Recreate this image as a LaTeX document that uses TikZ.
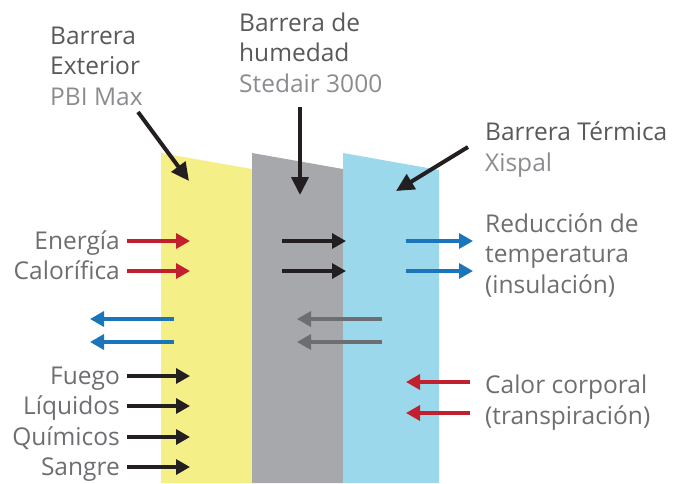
\documentclass[tikz,border=0pt]{standalone}
\usepackage{fontspec}
\setmainfont{Open Sans}
\usetikzlibrary{arrows.meta}

\definecolor{amarillo}{HTML}{F5EF88}
\definecolor{gris}{HTML}{A7A8AB}
\definecolor{celeste}{HTML}{9BD8EB}
\definecolor{rojo}{HTML}{C1202F}
\definecolor{azul}{HTML}{1B75BB}
\definecolor{negro}{HTML}{231F20}
\definecolor{grisosc}{HTML}{6D6E71}
\definecolor{textoosc}{HTML}{58595B}
\definecolor{textocla}{HTML}{8A8C8F}

\begin{document}
\begin{tikzpicture}[x=1pt,y=-1pt,
  flecha/.style={line width=3.3pt,-{Triangle[length=14pt,width=15pt]}},
  indica/.style={line width=4pt,draw=negro,-{Triangle[length=18pt,width=17pt]}},
  etiq/.style={text=grisosc,font=\fontsize{24.5}{30.5}\selectfont,inner sep=0pt},
  titulo/.style={etiq,text=textoosc,align=left,anchor=base west}]
\useasboundingbox (0,0) rectangle (676,483);

% capas
\fill[amarillo] (161,153) -- (252,169) -- (252,483) -- (161,483) -- cycle;
\fill[gris] (252,153) -- (343,169) -- (343,483) -- (252,483) -- cycle;
\fill[celeste] (343,153) -- (439,170) -- (439,483) -- (343,483) -- cycle;

% titulos (base = ultima linea)
\node[titulo] (exterior) at (50,105) {Barrera\\Exterior\\\textcolor{textocla}{PBI Max}};
\node[titulo] (humedad) at (239,92) {Barrera de\\humedad\\\textcolor{textocla}{Stedair 3000}};
\node[titulo] (termica) at (485,171) {Barrera Térmica\\\textcolor{textocla}{Xispal}};
\node[titulo,text=grisosc] (reduccion) at (485,293) {Reducción de\\temperatura\\(insulación)};
\node[titulo,text=grisosc] (calor) at (485,424) {Calor corporal\\(transpiración)};

\coordinate (p1) at (138,112); \coordinate (q1) at (189,181);
\coordinate (p2) at (300,107); \coordinate (q2) at (300,195);
\coordinate (p3) at (468,147); \coordinate (q3) at (396,191);
\draw[indica] (p1) -- (q1);
\draw[indica] (p2) -- (q2);
\draw[indica] (p3) -- (q3);

% entradas por la izquierda
\foreach \n/\y in {Energía/241,Calorífica/271} {
  \node[etiq,anchor=base east] (t\y) at (120,\y+8) {\n};
  \coordinate (a\y) at (127,\y); \coordinate (b\y) at (190,\y);
  \draw[flecha,rojo] (a\y) -- (b\y);
}
\foreach \n/\y in {Fuego/376,Líquidos/406,Químicos/437,Sangre/467} {
  \node[etiq,anchor=base east] (t\y) at (120,\y+8.5) {\n};
  \coordinate (a\y) at (127,\y); \coordinate (b\y) at (190,\y);
  \draw[flecha,negro] (a\y) -- (b\y);
}

% flechas dentro
\foreach \y in {241,271} {
  \coordinate (c\y) at (282,\y); \coordinate (d\y) at (346,\y);
  \draw[flecha,negro] (c\y) -- (d\y);
  \coordinate (e\y) at (406,\y); \coordinate (f\y) at (473,\y);
  \draw[flecha,azul] (e\y) -- (f\y);
}
\foreach \y in {319,342} {
  \coordinate (g\y) at (174,\y); \coordinate (h\y) at (90,\y);
  \draw[flecha,azul] (g\y) -- (h\y);
  \coordinate (i\y) at (382,\y); \coordinate (j\y) at (297,\y);
  \draw[flecha,grisosc] (i\y) -- (j\y);
}
\foreach \y in {382,413} {
  \coordinate (k\y) at (470,\y); \coordinate (l\y) at (406,\y);
  \draw[flecha,rojo] (k\y) -- (l\y);
}
\end{tikzpicture}
\end{document}
